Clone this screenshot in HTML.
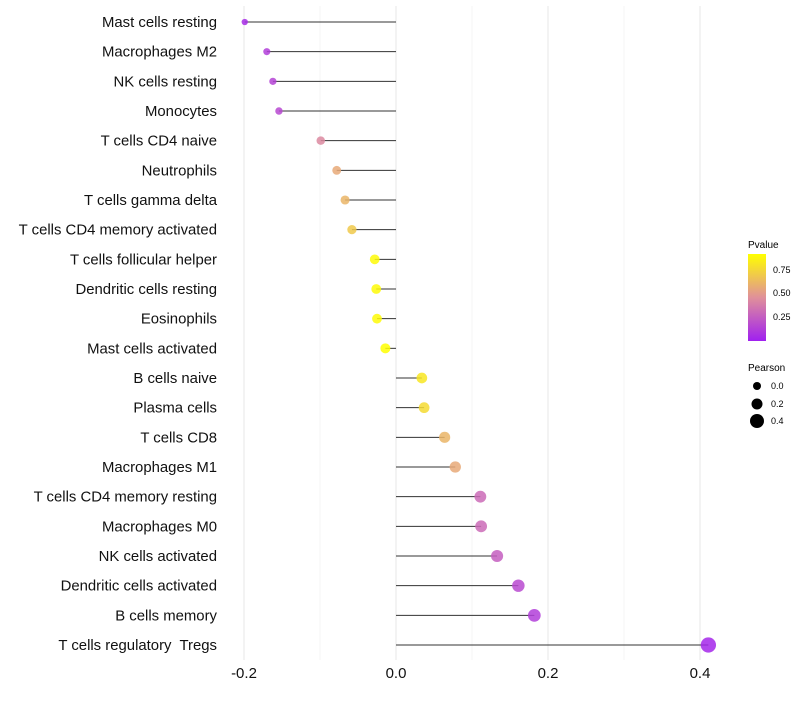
<!DOCTYPE html>
<html><head><meta charset="utf-8"><style>
body{margin:0;background:#fff;font-family:"Liberation Sans",sans-serif}
</style></head><body>
<svg id="chart" width="800" height="700" xmlns="http://www.w3.org/2000/svg" font-family="Liberation Sans, sans-serif">
<defs><linearGradient id="pg" x1="0" y1="1" x2="0" y2="0">
<stop offset="0" stop-color="#A020F0"/><stop offset="0.5" stop-color="#E0909A"/><stop offset="1" stop-color="#FFFF00"/></linearGradient></defs>
<g id="grid"></g>
<g id="marks"></g>
<g id="ylabels"></g>
<g id="xticks"></g>
<g font-size="10">
<text x="748" y="248">Pvalue</text>
<rect x="748" y="254" width="18" height="87" fill="url(#pg)"/>
<text x="773" y="273" font-size="9">0.75</text>
<text x="773" y="296" font-size="9">0.50</text>
<text x="773" y="320" font-size="9">0.25</text>
</g>
<g font-size="9">
<text x="748" y="371" font-size="10">Pearson</text>
<circle cx="757" cy="386" r="4" fill="#000"/>
<text x="771" y="389">0.0</text>
<circle cx="757" cy="404" r="5.5" fill="#000"/>
<text x="771" y="407">0.2</text>
<circle cx="757" cy="421" r="7" fill="#000"/>
<text x="771" y="424">0.4</text>
</g>
</svg>
<script>
const categories=["Mast cells resting","Macrophages M2","NK cells resting","Monocytes","T cells CD4 naive","Neutrophils","T cells gamma delta","T cells CD4 memory activated","T cells follicular helper","Dendritic cells resting","Eosinophils","Mast cells activated","B cells naive","Plasma cells","T cells CD8","Macrophages M1","T cells CD4 memory resting","Macrophages M0","NK cells activated","Dendritic cells activated","B cells memory","T cells regulatory  Tregs"];
const pearson=[-0.199,-0.170,-0.162,-0.154,-0.099,-0.078,-0.067,-0.058,-0.028,-0.026,-0.025,-0.014,0.034,0.037,0.064,0.078,0.111,0.112,0.133,0.161,0.182,0.411];
const pvalue=[0.05,0.12,0.14,0.16,0.42,0.55,0.6,0.68,0.88,0.88,0.88,0.9,0.8,0.75,0.6,0.55,0.3,0.3,0.25,0.17,0.12,0.03];
const xTicks=[-0.2,0,0.2,0.4];
const xMinor=[-0.1,0.1,0.3];
const NS="http://www.w3.org/2000/svg";
const xs=v=>396+v*760;
const ys=i=>22+i*29.667;
function col(p){const t=Math.max(0,Math.min(1,p/0.9));
const s=[[160,32,240],[224,144,154],[255,255,0]];
let a,b,u;if(t<0.5){a=s[0];b=s[1];u=t/0.5}else{a=s[1];b=s[2];u=(t-0.5)/0.5}
return `rgb(${a.map((c,k)=>Math.round(c+(b[k]-c)*u)).join(",")})`;}
function mk(tag,at,parent){const e=document.createElementNS(NS,tag);for(const k in at)e.setAttribute(k,at[k]);parent.appendChild(e);return e;}
const grid=document.getElementById('grid'),marks=document.getElementById('marks'),yl=document.getElementById('ylabels'),xt=document.getElementById('xticks');
xMinor.forEach(v=>{const l=mk('line',{x1:xs(v),x2:xs(v),y1:6,y2:660,stroke:'#f3f3f3','stroke-width':0.8},grid);

});
xTicks.forEach(v=>{const l=mk('line',{x1:xs(v),x2:xs(v),y1:6,y2:660,stroke:'#ebebeb','stroke-width':1.2},grid);


const t=mk('text',{x:xs(v),y:678,'text-anchor':'middle','font-size':15,fill:'#111'},xt);t.textContent=v===0?'0.0':String(v);

});
categories.forEach((c,i)=>{const y=ys(i);
const t=mk('text',{x:217,y:y+5,'text-anchor':'end','font-size':14.9,fill:'#111','xml:space':'preserve'},yl);t.textContent=c;
t.style.whiteSpace='pre';


const l=mk('line',{x1:xs(0),x2:xs(pearson[i]),y1:y,y2:y,stroke:'#333','stroke-width':1},marks);


const r=Math.sqrt(Math.max(3,26+80*pearson[i]));
const d=mk('circle',{cx:xs(pearson[i]),cy:y,r:r,fill:col(pvalue[i]),'fill-opacity':0.85},marks);

});
</script>
</body></html>
